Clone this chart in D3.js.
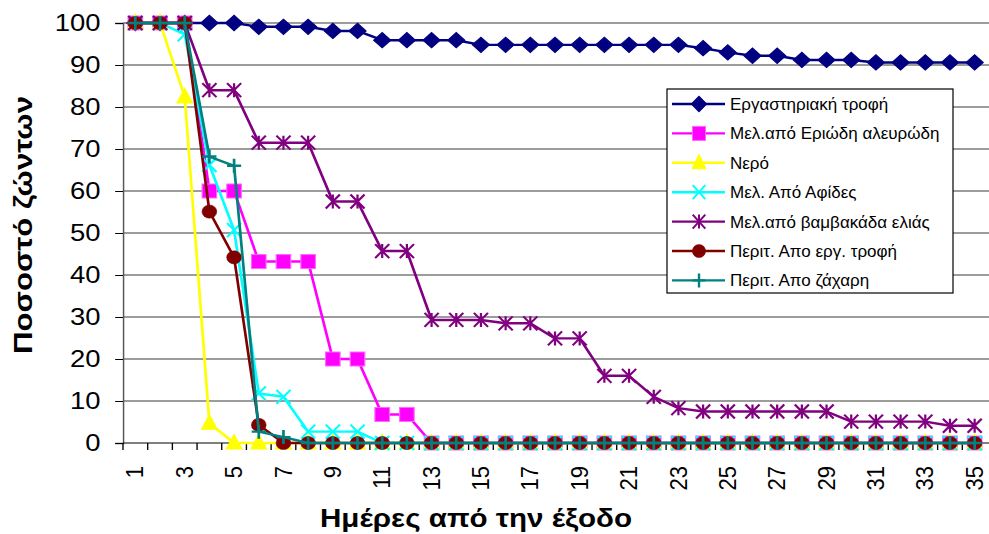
<!DOCTYPE html>
<html>
<head>
<meta charset="utf-8">
<script src="https://cdn.jsdelivr.net/npm/d3@7"></script>
<style>
  html, body { margin: 0; padding: 0; background: #fff; }
  svg { display: block; }
  text { font-family: Arial, "Liberation Sans", sans-serif; fill: #000; }
</style>
</head>
<body>
<svg id="chart" width="989" height="534"></svg>
<script>
// Days since emergence
const days = [1,2,3,4,5,6,7,8,9,10,11,12,13,14,15,16,17,18,19,20,21,22,23,24,25,26,27,28,29,30,31,32,33,34,35];
const xTickLabels = [1,3,5,7,9,11,13,15,17,19,21,23,25,27,29,31,33,35];
const yTickValues = [0,10,20,30,40,50,60,70,80,90,100];

// Survival (%) per diet
const labDiet      = [100,100,100,100,100,99.1,99.1,99.1,98.1,98.1,95.9,95.9,95.9,95.9,94.8,94.8,94.8,94.8,94.8,94.8,94.8,94.8,94.8,94.0,93.0,92.2,92.2,91.2,91.2,91.2,90.6,90.6,90.6,90.6,90.6];
const whiteflyHoney= [100,100,100,60,60,43.2,43.2,43.2,20,20,6.8,6.8,0,0,0,0,0,0,0,0,0,0,0,0,0,0,0,0,0,0,0,0,0,0,0];
const water        = [100,100,82.4,4.7,0,0,0,0,0,0,0,0,0,0,0,0,0,0,0,0,0,0,0,0,0,0,0,0,0,0,0,0,0,0,0];
const aphidHoney   = [100,100,97.3,66.2,50.7,11.8,11.0,2.7,2.7,2.7,0,0,0,0,0,0,0,0,0,0,0,0,0,0,0,0,0,0,0,0,0,0,0,0,0];
const psyllidHoney = [100,100,100,84,84,71.5,71.5,71.5,57.5,57.5,45.7,45.7,29.3,29.3,29.3,28.5,28.5,24.9,24.9,16,16,11,8.3,7.5,7.5,7.5,7.5,7.5,7.5,5.1,5.1,5.1,5.1,4.1,4.1];
const labExcreta   = [100,100,100,55.1,44.2,4.3,0,0,0,0,0,0,0,0,0,0,0,0,0,0,0,0,0,0,0,0,0,0,0,0,0,0,0,0,0];
const sugarExcreta = [100,100,100,68.2,66,2.7,1.4,0,0,0,0,0,0,0,0,0,0,0,0,0,0,0,0,0,0,0,0,0,0,0,0,0,0,0,0];

const seriesNames = [
  "Εργαστηριακή τροφή",
  "Μελ.από Εριώδη αλευρώδη",
  "Νερό",
  "Μελ. Από Αφίδες",
  "Μελ.από βαμβακάδα ελιάς",
  "Περιτ. Απο εργ. τροφή",
  "Περιτ. Απο ζάχαρη"
];
const seriesValues = [labDiet, whiteflyHoney, water, aphidHoney, psyllidHoney, labExcreta, sugarExcreta];
const seriesColors = ["#000080","#FF00FF","#FFFF00","#00FFFF","#800080","#800000","#008080"];
const seriesMarkers = ["diamond","square","triangle","x","asterisk","circle","plus"];

const xTitle = "Ημέρες από την έξοδο";
const yTitle = "Ποσοστό ζώντων";

// ---- layout (screen pixels); the plot body is slightly widened horizontally ----
const W = 989, H = 534;
const sx = 1.12;
const plotLeft = 123 / sx, plotRight = 987 / sx, plotTop = 23, plotBottom = 443;

const svg = d3.select("#chart");
const g = svg.append("g").attr("transform", `scale(${sx},1)`);

const x = d3.scalePoint().domain(days).range([plotLeft, plotRight]).padding(0.5);
const y = d3.scaleLinear().domain([0, 100]).range([plotBottom, plotTop]);
const step = x.step();

// gridlines
g.append("g").selectAll("line")
  .data(yTickValues.filter(v => v > 0))
  .join("line")
  .attr("x1", plotLeft).attr("x2", W / sx)
  .attr("y1", d => y(d)).attr("y2", d => y(d))
  .attr("stroke", "#3a3a3a").attr("stroke-width", 1.2);

// y axis
const yAxis = g.append("g")
  .attr("transform", `translate(${plotLeft},0)`)
  .call(d3.axisLeft(y).tickValues(yTickValues).tickSize(7).tickPadding(13).tickFormat(d3.format("d")));
yAxis.select(".domain").attr("stroke", "#555").attr("stroke-width", 1.3);
yAxis.selectAll(".tick line").attr("stroke", "#000");
yAxis.selectAll("text").attr("font-size", 24.5).attr("font-family", "Arial, 'Liberation Sans', sans-serif");

// x axis line and boundary ticks
const xAxisG = g.append("g");
xAxisG.append("line")
  .attr("x1", plotLeft).attr("x2", W / sx)
  .attr("y1", plotBottom).attr("y2", plotBottom)
  .attr("stroke", "#000").attr("stroke-width", 1.2);
xAxisG.selectAll("line.tk")
  .data(days)
  .join("line").attr("class", "tk")
  .attr("x1", d => x(d) - step / 2).attr("x2", d => x(d) - step / 2)
  .attr("y1", plotBottom).attr("y2", plotBottom + 7)
  .attr("stroke", "#000").attr("stroke-width", 1.2);

// x tick labels (every other day), rotated
xAxisG.selectAll("text.xl")
  .data(xTickLabels)
  .join("text").attr("class", "xl")
  .attr("transform", d => `translate(${x(d)},${plotBottom + 23}) rotate(-90)`)
  .attr("text-anchor", "end")
  .attr("dy", "0.33em")
  .attr("font-size", 22)
  .text(d => d);

// marker drawing
function drawMarker(sel, type, color) {
  const r = 7;
  if (type === "diamond") {
    sel.append("path").attr("d", d3.symbol(d3.symbolSquare, 118)())
      .attr("transform", "rotate(45)").attr("fill", color).attr("stroke", color).attr("stroke-width", 1);
  } else if (type === "square") {
    sel.append("rect").attr("x", -6.5).attr("y", -7).attr("width", 13).attr("height", 14)
      .attr("fill", color).attr("stroke", "#ff66ff").attr("stroke-width", 1);
  } else if (type === "triangle") {
    sel.append("path").attr("d", "M0,-8.5L7,6L-7,6Z").attr("fill", color).attr("stroke", color).attr("stroke-width", 1);
  } else if (type === "circle") {
    sel.append("circle").attr("r", 6.6).attr("fill", color).attr("stroke", color).attr("stroke-width", 0.5);
  } else if (type === "x") {
    sel.append("path").attr("d", `M${-r*0.9},${-r}L${r*0.9},${r}M${-r*0.9},${r}L${r*0.9},${-r}`)
      .attr("stroke", color).attr("stroke-width", 2).attr("fill", "none");
  } else if (type === "asterisk") {
    sel.append("path").attr("d", `M${-r*0.9},${-r}L${r*0.9},${r}M${-r*0.9},${r}L${r*0.9},${-r}M0,${-r}L0,${r}`)
      .attr("stroke", color).attr("stroke-width", 2).attr("fill", "none");
  } else if (type === "plus") {
    sel.append("path").attr("d", `M${-r*0.9},0L${r*0.9},0M0,${-r}L0,${r}`)
      .attr("stroke", color).attr("stroke-width", 2.4).attr("fill", "none");
  }
}

// series lines and markers
const line = d3.line().x((d, i) => x(days[i])).y(d => y(d));
seriesValues.forEach((vals, si) => {
  const sg = g.append("g");
  sg.append("path")
    .attr("d", line(vals))
    .attr("fill", "none")
    .attr("stroke", seriesColors[si])
    .attr("stroke-width", 2.4)
    .attr("stroke-linejoin", "round");
  sg.selectAll("g.m")
    .data(vals)
    .join("g").attr("class", "m")
    .attr("transform", (d, i) => `translate(${x(days[i])},${y(d)})`)
    .each(function () { drawMarker(d3.select(this), seriesMarkers[si], seriesColors[si]); });
});

// axis titles
svg.append("text")
  .attr("x", 476).attr("y", 527)
  .attr("text-anchor", "middle")
  .attr("font-size", 26).attr("font-weight", "bold")
  .attr("textLength", 312).attr("lengthAdjust", "spacingAndGlyphs")
  .text(xTitle);

svg.append("text")
  .attr("transform", "translate(32,225) rotate(-90)")
  .attr("text-anchor", "middle")
  .attr("font-size", 26).attr("font-weight", "bold")
  .attr("textLength", 258).attr("lengthAdjust", "spacingAndGlyphs")
  .text(yTitle);

// legend
const lg = svg.append("g");
lg.append("rect")
  .attr("x", 667).attr("y", 89).attr("width", 286).attr("height", 204)
  .attr("fill", "#fff").attr("stroke", "#000").attr("stroke-width", 1.2);
seriesNames.forEach((name, i) => {
  const cy = 104 + i * 29.4;
  const row = lg.append("g");
  row.append("line")
    .attr("x1", 672).attr("x2", 725).attr("y1", cy).attr("y2", cy)
    .attr("stroke", seriesColors[i]).attr("stroke-width", 2.4);
  const mk = row.append("g").attr("transform", `translate(699,${cy})`);
  drawMarker(mk, seriesMarkers[i], seriesColors[i]);
  row.append("text")
    .attr("x", 730).attr("y", cy).attr("dy", "0.35em")
    .attr("font-size", 17)
    .text(name);
});
</script>
</body>
</html>
